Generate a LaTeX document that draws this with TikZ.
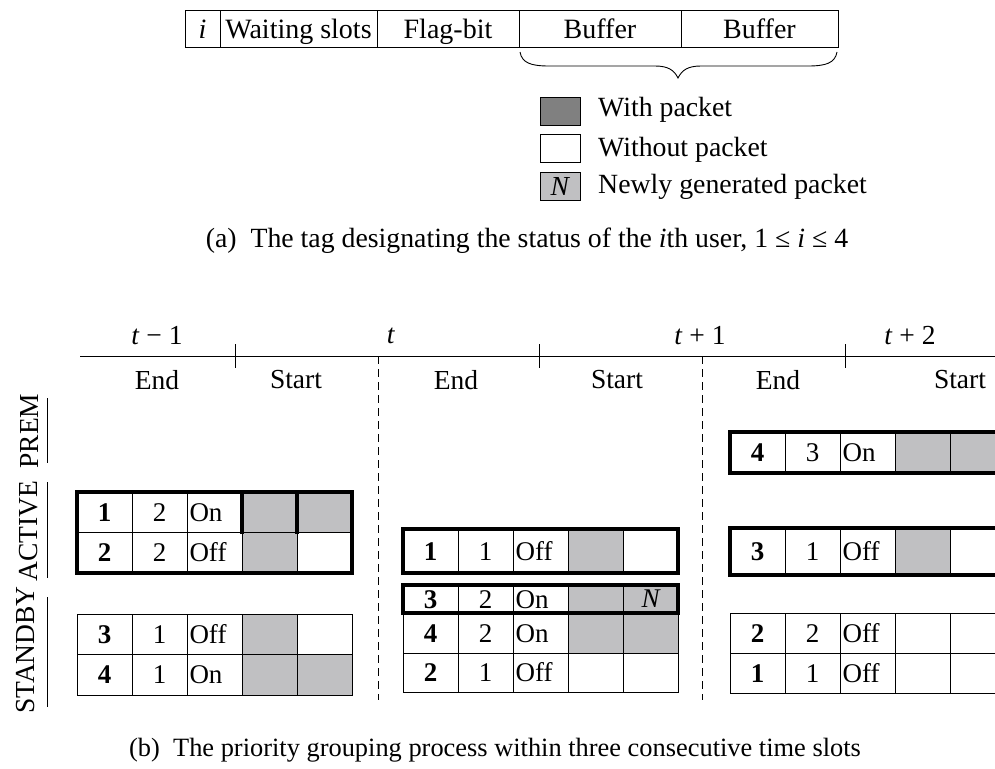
\documentclass[tikz,border=0pt]{standalone}
\usepackage{fontspec}
\setmainfont{Liberation Serif}
\definecolor{pktgray}{HTML}{C0C0C2}
\definecolor{darkpkt}{HTML}{808080}
\newcommand\cellfont{\fontsize{27}{31}\selectfont}
\newcommand\labfont{\fontsize{27.5}{32}\selectfont}
\newcommand\legfont{\fontsize{27.8}{32}\selectfont}
% one user's tag: id, waiting slots, flag-bit and two buffer cells
% #1 name, #2 x, #3 y (top), #4 height, #5 id, #6 slots, #7 flag, #8/#9 buffer styles
\newcommand\tagrow[9]{%
  \node[cell, minimum height=#4pt, font=\cellfont\bfseries] (#1-id) at (#2,#3) {#5};
  \node[cell, minimum height=#4pt] (#1-ws) at (#1-id.north east) {#6};
  \node[flagcell, minimum height=#4pt] (#1-fl) at (#1-ws.north east) {#7};
  \node[cell, minimum height=#4pt, #8] (#1-b1) at (#1-fl.north east) {};
  \node[cell, minimum height=#4pt, #9] (#1-b2) at (#1-b1.north east) {};
}
\tikzset{
  cell/.style={draw, line width=0.8pt, minimum width=55pt, inner sep=0pt,
    outer sep=0pt, anchor=north west, font=\cellfont,
    text height=18pt, text depth=0pt},
  flagcell/.style={cell, text width=50pt, inner xsep=2.5pt, align=left},
  pk/.style={fill=pktgray},
  np/.style={fill=white},
  thickbox/.style={line width=3.6pt, line cap=rect},
  tagcell/.style={draw, line width=0.9pt, minimum height=37pt, inner sep=0pt,
    outer sep=0pt, anchor=north west, font=\fontsize{28}{32}\selectfont,
    text height=19pt, text depth=0pt},
  legbox/.style={draw, line width=0.9pt, minimum width=40pt, minimum height=28pt,
    inner sep=0pt, anchor=north west, font=\labfont,
    text height=18pt, text depth=0pt},
  lab/.style={font=\labfont, inner sep=0pt},
  leg/.style={font=\legfont, inner sep=0pt, anchor=west},
  grp/.style={font=\labfont, inner sep=0pt, rotate=90},
  axis/.style={line width=0.9pt},
  slotline/.style={line width=0.9pt, dash pattern=on 8pt off 5pt},
}
\begin{document}
\begin{tikzpicture}[x=1pt, y=-1pt]
\useasboundingbox (0,0) rectangle (995,768);
\clip (0,0) rectangle (995,768);

% ---------- (a) tag layout ----------
\node[tagcell, minimum width=35pt] (ti) at (185,10) {\textit{i}};
\node[tagcell, minimum width=157pt] (tws) at (ti.north east) {Waiting slots};
\node[tagcell, minimum width=142pt] (tfl) at (tws.north east) {Flag-bit};
\node[tagcell, minimum width=162pt] (tb1) at (tfl.north east) {Buffer};
\node[tagcell, minimum width=157pt] (tb2) at (tb1.north east) {Buffer};

% brace under the two buffers
\draw[line width=0.9pt] (520,52) .. controls (522,63) and (531,66) .. (549,66)
  -- (655,66) .. controls (668,66) and (674,70) .. (678,78)
  .. controls (682,70) and (688,66) .. (701,66)
  -- (808,66) .. controls (826,66) and (835,63) .. (837,52);

% legend
\node[legbox, fill=darkpkt] (lg1) at (540,97) {};
\node[legbox, fill=white] (lg2) at (540,134) {};
\node[legbox, fill=pktgray] (lg3) at (540,172) {\textit{N}};
\node[leg] (lt1) at (598,110) {With packet};
\node[leg] (lt2) at (598,150) {Without packet};
\node[leg] (lt3) at (598,187) {Newly generated packet};

\node[font=\fontsize{27.8}{32}\selectfont, inner sep=0pt] (capa) at (527,241)
  {(a)\enspace The tag designating the status of the \textit{i}th user, 1 ≤ \textit{i} ≤ 4};

% ---------- (b) time axis ----------
\coordinate (ax0) at (80,356);
\coordinate (ax1) at (995,356);
\draw[axis] (ax0) -- (ax1);
\foreach \x [count=\k] in {235,539,845} {
  \coordinate (tk\k a) at (\x,344);
  \coordinate (tk\k b) at (\x,368);
  \draw[axis] (tk\k a) -- (tk\k b);
}
\coordinate (ds1a) at (378,356); \coordinate (ds1b) at (378,700);
\coordinate (ds2a) at (702,356); \coordinate (ds2b) at (702,700);
\draw[slotline] (ds1a) -- (ds1b);
\draw[slotline] (ds2a) -- (ds2b);

\node[lab] (sl0) at (157,336) {\textit{t} − 1};
\node[lab] (sl1) at (391,336) {\textit{t}};
\node[lab] (sl2) at (700,336) {\textit{t} + 1};
\node[lab] (sl3) at (910,336) {\textit{t} + 2};
\foreach \x/\w [count=\k] in {157/End,296/Start,456/End,617/Start,778/End,960/Start}
  \node[lab] (ph\k) at (\x,380) {\w};

% group labels on the left
\node[grp] (gprem) at (29,431) {PREM};
\node[grp] (gact) at (29,531) {ACTIVE};
\node[grp] (gsby) at (26,650) {STANDBY};
\coordinate (gp0) at (47,398); \coordinate (gp1) at (47,463);
\coordinate (ga0) at (47,482); \coordinate (ga1) at (47,578);
\coordinate (gs0) at (47,597); \coordinate (gs1) at (47,707);
\draw[line width=1pt] (gp0) -- (gp1);
\draw[line width=1pt] (ga0) -- (ga1);
\draw[line width=1pt] (gs0) -- (gs1);

% ---------- slot t-1 ----------
\tagrow{pa1}{77}{492}{40.5}{1}{2}{On}{pk}{pk}
\tagrow{pa2}{77}{532.5}{40.5}{2}{2}{Off}{pk}{np}
\tagrow{ps1}{77}{614}{40.5}{3}{1}{Off}{pk}{np}
\tagrow{ps2}{77}{654.5}{40.5}{4}{1}{On}{pk}{pk}
\draw[thickbox] (pa1-id.north west) rectangle (pa2-b2.south east);
\draw[thickbox] (pa1-b1.north west) -- (pa1-b1.south west);
\draw[thickbox] (pa1-b2.north west) -- (pa1-b2.south west);

% ---------- slot t ----------
\tagrow{qa1}{403}{529}{44}{1}{1}{Off}{pk}{np}
\tagrow{qn1}{403}{585}{28}{3}{2}{On}{pk}{pk}
\node[font=\cellfont\itshape, inner sep=0pt] (qn1-new) at (qn1-b2.center) {N};
\tagrow{qs1}{403}{613}{40}{4}{2}{On}{pk}{pk}
\tagrow{qs2}{403}{653}{39.5}{2}{1}{Off}{np}{np}
\draw[thickbox] (qa1-id.north west) rectangle (qa1-b2.south east);
\draw[thickbox] (qn1-id.north west) rectangle (qn1-b2.south east);

% ---------- slot t+1 ----------
\tagrow{rp1}{730}{432}{41}{4}{3}{On}{pk}{pk}
\tagrow{ra1}{730}{528}{47}{3}{1}{Off}{pk}{np}
\tagrow{rs1}{730}{613}{40}{2}{2}{Off}{np}{np}
\tagrow{rs2}{730}{653}{40}{1}{1}{Off}{np}{np}
\draw[thickbox] (rp1-id.north west) rectangle (rp1-b2.south east);
\draw[thickbox] (ra1-id.north west) rectangle (ra1-b2.south east);

\node[font=\fontsize{26.4}{31}\selectfont, inner sep=0pt] (capb) at (495,750)
  {(b)\enspace The priority grouping process within three consecutive time slots};
\end{tikzpicture}
\end{document}
